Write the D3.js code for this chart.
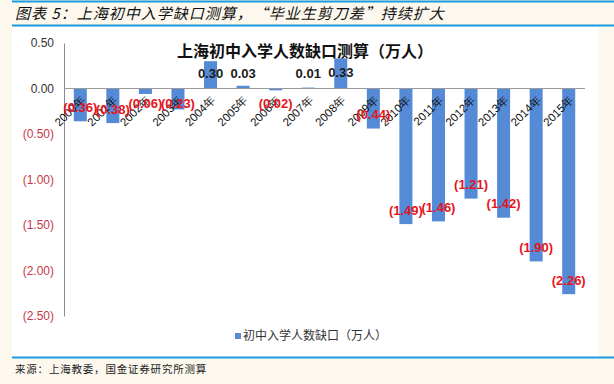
<!DOCTYPE html>
<html>
<head>
<meta charset="utf-8">
<script src="https://cdn.jsdelivr.net/npm/d3@7"></script>
<style>
body{margin:0;background:#fcf8ee;}
svg{display:block;}
</style>
</head>
<body>
<svg id="svg" width="614" height="384"></svg>
<script>
var years=["2000年","2001年","2002年","2003年","2004年","2005年","2006年","2007年","2008年","2009年","2010年","2011年","2012年","2013年","2014年","2015年"];
var gap=[-0.36,-0.38,-0.06,-0.23,0.30,0.03,-0.02,0.01,0.33,-0.44,-1.49,-1.46,-1.21,-1.42,-1.90,-2.26];
var yTicks=[0.5,0,-0.5,-1,-1.5,-2,-2.5];

var svg=d3.select("#svg");

// panel background + blue rules
svg.append("rect").attr("x",12).attr("y",27).attr("width",586).attr("height",330).attr("fill","#ffffff");
svg.append("line").attr("x1",12).attr("x2",614).attr("y1",1.5).attr("y2",1.5).attr("stroke","#1a9be0").attr("stroke-width",2);
svg.append("line").attr("x1",12).attr("x2",614).attr("y1",25.5).attr("y2",25.5).attr("stroke","#1a9be0").attr("stroke-width",2);
svg.append("line").attr("x1",12).attr("x2",614).attr("y1",357.5).attr("y2",357.5).attr("stroke","#1a9be0").attr("stroke-width",2);

svg.append("text").attr("x",15).attr("y",19)
  .attr("font-family","Noto Sans CJK SC").attr("font-size",15).attr("font-style","italic")
  .attr("letter-spacing",1).attr("fill","#111")
  .text("图表 5：上海初中入学缺口测算，“毕业生剪刀差”持续扩大");

svg.append("text").attr("x",15).attr("y",373)
  .attr("font-family","Noto Sans CJK SC").attr("font-size",10.5)
  .attr("letter-spacing",0.8).attr("fill","#222")
  .text("来源：上海教委，国金证券研究所测算");

var x=d3.scaleBand().domain(years).range([64,585]).paddingInner(0.6).paddingOuter(0.3);
var y=d3.scaleLinear().domain([-2.5,0.5]).range([316,43]);

function fmt(v){
  var s=Math.abs(v).toFixed(2);
  return v<0?"("+s+")":s;
}

// y axis
var yAxis=d3.axisLeft(y).tickValues(yTicks).tickSize(0).tickPadding(10).tickFormat(fmt);
var ya=svg.append("g").attr("transform","translate(64,0)").call(yAxis);
ya.select(".domain").attr("stroke","#8c8c8c");
ya.selectAll("text")
  .attr("font-family","Liberation Sans, Arial").attr("font-size",12)
  .attr("fill",function(d){ return d<0?"#c9374a":"#333"; });

// bars
svg.append("g").selectAll("rect").data(gap).enter().append("rect")
  .attr("x",function(d,i){ return x(years[i]); })
  .attr("width",x.bandwidth())
  .attr("y",function(d){ return Math.min(y(d),y(0)); })
  .attr("height",function(d){ return Math.abs(y(d)-y(0)); })
  .attr("fill","#558ad6");

// zero line
svg.append("line").attr("x1",64).attr("x2",585).attr("y1",y(0)).attr("y2",y(0))
  .attr("stroke","#9a9a9a").attr("stroke-width",1);

// category labels
svg.append("g").selectAll("text").data(years).enter().append("text")
  .attr("transform",function(d){
    return "translate("+(x(d)+x.bandwidth()/2+3)+","+(y(0)+9)+") rotate(-45)";
  })
  .attr("text-anchor","end").attr("dy","0.35em")
  .attr("font-family","Liberation Sans, Arial").attr("font-size",11.5).attr("fill","#111")
  .text(function(d){ return d; });

// value labels (inside end)
svg.append("g").selectAll("text").data(gap).enter().append("text")
  .attr("x",function(d,i){ return x(years[i])+x.bandwidth()/2; })
  .attr("y",function(d){
    var off=Math.max(Math.abs(y(d)-y(0))-14,15);
    return d<0?y(0)+off:y(0)-off;
  })
  .attr("dy","0.35em").attr("text-anchor","middle")
  .attr("font-family","Liberation Sans, Arial").attr("font-size",13).attr("font-weight","bold")
  .attr("fill",function(d){ return d<0?"#e8141c":"#1a1a1a"; })
  .text(fmt);

svg.append("text").attr("x",305).attr("y",51).attr("dy","0.35em").attr("text-anchor","middle")
  .attr("font-family","Noto Sans CJK SC").attr("font-size",16).attr("font-weight","bold").attr("fill","#111")
  .text("上海初中入学人数缺口测算（万人）");

// legend
svg.append("rect").attr("x",235).attr("y",333).attr("width",6).attr("height",6).attr("fill","#558ad6");
svg.append("text").attr("x",243).attr("y",336).attr("dy","0.35em")
  .attr("font-family","Noto Sans CJK SC").attr("font-size",12).attr("fill","#333")
  .text("初中入学人数缺口（万人）");
</script>
</body>
</html>
